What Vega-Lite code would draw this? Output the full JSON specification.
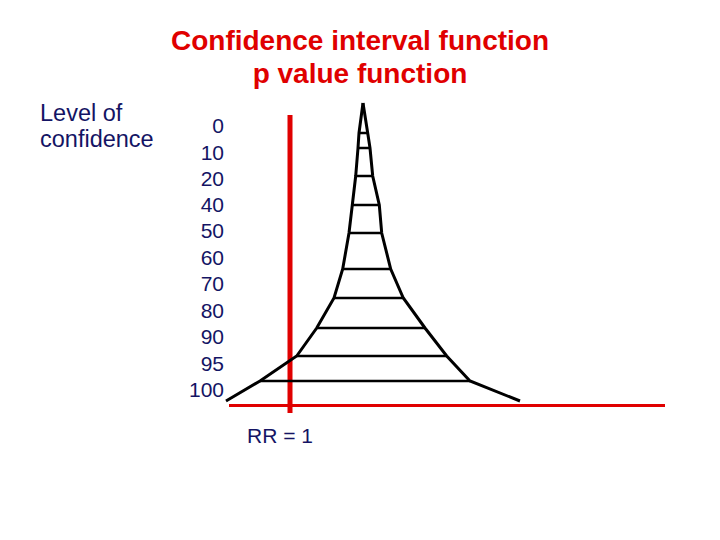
{
  "$schema": "https://vega.github.io/schema/vega-lite/v6.json",
  "width": 720,
  "height": 540,
  "padding": 0,
  "autosize": {"type": "fit", "contains": "padding"},
  "background": "white",
  "config": {"view": {"stroke": null}},
  "datasets": {
    "funnel": [
      {"side": "left", "ord": 0, "x": 363, "y": 103},
      {"side": "left", "ord": 1, "x": 359, "y": 133},
      {"side": "left", "ord": 2, "x": 358, "y": 148},
      {"side": "left", "ord": 3, "x": 355.7, "y": 176},
      {"side": "left", "ord": 4, "x": 352.3, "y": 205},
      {"side": "left", "ord": 5, "x": 349, "y": 233},
      {"side": "left", "ord": 6, "x": 342.7, "y": 269},
      {"side": "left", "ord": 7, "x": 334, "y": 298},
      {"side": "left", "ord": 8, "x": 316.7, "y": 328},
      {"side": "left", "ord": 9, "x": 296.7, "y": 356},
      {"side": "left", "ord": 10, "x": 260, "y": 381},
      {"side": "left", "ord": 11, "x": 226, "y": 401},
      {"side": "right", "ord": 0, "x": 363, "y": 103},
      {"side": "right", "ord": 1, "x": 367.7, "y": 133},
      {"side": "right", "ord": 2, "x": 370, "y": 148},
      {"side": "right", "ord": 3, "x": 372.7, "y": 176},
      {"side": "right", "ord": 4, "x": 379.3, "y": 205},
      {"side": "right", "ord": 5, "x": 381.7, "y": 233},
      {"side": "right", "ord": 6, "x": 390.7, "y": 269},
      {"side": "right", "ord": 7, "x": 403.3, "y": 298},
      {"side": "right", "ord": 8, "x": 425, "y": 328},
      {"side": "right", "ord": 9, "x": 446.7, "y": 356},
      {"side": "right", "ord": 10, "x": 470, "y": 381},
      {"side": "right", "ord": 11, "x": 520, "y": 401}
    ],
    "rungs": [
      {"x": 359, "x2": 367.7, "y": 133},
      {"x": 358, "x2": 370, "y": 148},
      {"x": 355.7, "x2": 372.7, "y": 176},
      {"x": 352.3, "x2": 379.3, "y": 205},
      {"x": 349, "x2": 381.7, "y": 233},
      {"x": 342.7, "x2": 390.7, "y": 269},
      {"x": 334, "x2": 403.3, "y": 298},
      {"x": 316.7, "x2": 425, "y": 328},
      {"x": 296.7, "x2": 446.7, "y": 356},
      {"x": 260, "x2": 470, "y": 381}
    ],
    "levels": [
      {"label": "0", "y": 127},
      {"label": "10", "y": 154},
      {"label": "20", "y": 180},
      {"label": "40", "y": 206},
      {"label": "50", "y": 232},
      {"label": "60", "y": 259},
      {"label": "70", "y": 285},
      {"label": "80", "y": 312},
      {"label": "90", "y": 338},
      {"label": "95", "y": 365},
      {"label": "100", "y": 391}
    ],
    "titles": [
      {"text": "Confidence interval function", "x": 360, "y": 42},
      {"text": "p value function", "x": 360, "y": 75}
    ],
    "side": [
      {"text": "Level of", "x": 40, "y": 114},
      {"text": "confidence", "x": 40, "y": 140}
    ],
    "axisx": [{"x": 229, "x2": 665, "y": 405.5}],
    "axisy": [{"x": 290, "y": 115, "y2": 413}],
    "rr": [{"text": "RR = 1", "x": 247, "y": 437}]
  },
  "encoding": {},
  "layer": [
    {
      "data": {"name": "axisx"},
      "mark": {"type": "rule", "color": "#e00000", "strokeWidth": 3},
      "encoding": {
        "x": {"field": "x", "type": "quantitative", "scale": {"domain": [0, 720]}, "axis": null},
        "x2": {"field": "x2"},
        "y": {"field": "y", "type": "quantitative", "scale": {"domain": [0, 540], "reverse": true}, "axis": null}
      }
    },
    {
      "data": {"name": "axisy"},
      "mark": {"type": "rule", "color": "#e00000", "strokeWidth": 5},
      "encoding": {
        "x": {"field": "x", "type": "quantitative", "scale": {"domain": [0, 720]}, "axis": null},
        "y": {"field": "y", "type": "quantitative", "scale": {"domain": [0, 540], "reverse": true}, "axis": null},
        "y2": {"field": "y2"}
      }
    },
    {
      "data": {"name": "funnel"},
      "mark": {"type": "line", "color": "black", "strokeWidth": 3},
      "encoding": {
        "x": {"field": "x", "type": "quantitative", "scale": {"domain": [0, 720]}, "axis": null},
        "y": {"field": "y", "type": "quantitative", "scale": {"domain": [0, 540], "reverse": true}, "axis": null},
        "detail": {"field": "side"},
        "order": {"field": "ord", "type": "quantitative"}
      }
    },
    {
      "data": {"name": "rungs"},
      "mark": {"type": "rule", "color": "black", "strokeWidth": 2.5},
      "encoding": {
        "x": {"field": "x", "type": "quantitative", "scale": {"domain": [0, 720]}, "axis": null},
        "x2": {"field": "x2"},
        "y": {"field": "y", "type": "quantitative", "scale": {"domain": [0, 540], "reverse": true}, "axis": null}
      }
    },
    {
      "data": {"name": "levels"},
      "mark": {"type": "text", "align": "right", "baseline": "middle", "font": "Liberation Sans", "fontSize": 21, "color": "#141464"},
      "encoding": {
        "x": {"datum": 224, "type": "quantitative", "scale": {"domain": [0, 720]}, "axis": null},
        "y": {"field": "y", "type": "quantitative", "scale": {"domain": [0, 540], "reverse": true}, "axis": null},
        "text": {"field": "label"}
      }
    },
    {
      "data": {"name": "titles"},
      "mark": {"type": "text", "align": "center", "baseline": "middle", "font": "Liberation Sans", "fontWeight": "bold", "fontSize": 28, "color": "#e00000"},
      "encoding": {
        "x": {"field": "x", "type": "quantitative", "scale": {"domain": [0, 720]}, "axis": null},
        "y": {"field": "y", "type": "quantitative", "scale": {"domain": [0, 540], "reverse": true}, "axis": null},
        "text": {"field": "text"}
      }
    },
    {
      "data": {"name": "side"},
      "mark": {"type": "text", "align": "left", "baseline": "middle", "font": "Liberation Sans", "fontSize": 23.5, "color": "#141464"},
      "encoding": {
        "x": {"field": "x", "type": "quantitative", "scale": {"domain": [0, 720]}, "axis": null},
        "y": {"field": "y", "type": "quantitative", "scale": {"domain": [0, 540], "reverse": true}, "axis": null},
        "text": {"field": "text"}
      }
    },
    {
      "data": {"name": "rr"},
      "mark": {"type": "text", "align": "left", "baseline": "middle", "font": "Liberation Sans", "fontSize": 21, "color": "#141464"},
      "encoding": {
        "x": {"field": "x", "type": "quantitative", "scale": {"domain": [0, 720]}, "axis": null},
        "y": {"field": "y", "type": "quantitative", "scale": {"domain": [0, 540], "reverse": true}, "axis": null},
        "text": {"field": "text"}
      }
    }
  ]
}
